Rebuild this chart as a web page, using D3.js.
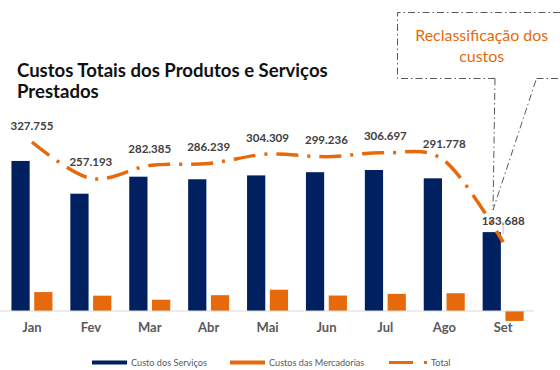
<!DOCTYPE html>
<html>
<head>
<meta charset="utf-8">
<script src="https://cdn.jsdelivr.net/npm/d3@7"></script>
<style>
  html, body { margin: 0; padding: 0; background: #ffffff; }
  svg { display: block; font-family: Lato, "Open Sans", sans-serif; }
</style>
</head>
<body>
<svg id="chart" width="560" height="370"></svg>
<script>
// Monthly cost data (R$ mil)
const months = ["Jan", "Fev", "Mar", "Abr", "Mai", "Jun", "Jul", "Ago", "Set"];
const custoServicos = [291.0, 227.5, 260.5, 255.5, 263.0, 269.2, 273.5, 257.3, 153.0];
const custoMercadorias = [36.7, 29.7, 21.9, 30.7, 41.3, 30.0, 33.2, 34.5, -19.3];
const total = [327.755, 257.193, 282.385, 286.239, 304.309, 299.236, 306.697, 291.778, 133.688];
const totalLabels = ["327.755", "257.193", "282.385", "286.239", "304.309", "299.236", "306.697", "291.778", "133.688"];
const seriesNames = ["Custo dos Serviços", "Custos das Mercadorias", "Total"];

const NAVY = "#002060";
const ORANGE = "#E66A0C";
const DASH = "22 9 3 9";

const svg = d3.select("#chart");

// shrink or grow a text's font-size so it spans the given width
function fitWidth(sel, target) {
  const node = sel.node();
  const fs = parseFloat(sel.attr("font-size"));
  const w = node.getComputedTextLength();
  const size = fs * target / w;
  sel.attr("font-size", size);
  return size;
}

// ---- title ----
const t1 = svg.append("text").attr("x", 17).attr("y", 77)
  .attr("font-size", 19).attr("font-weight", 700).attr("fill", "#111")
  .text("Custos Totais dos Produtos e Serviços");
const titleSize = fitWidth(t1, 311);
svg.append("text").attr("x", 17).attr("y", 98)
  .attr("font-size", titleSize).attr("font-weight", 700).attr("fill", "#111")
  .text("Prestados");

// ---- scales ----
const x = d3.scaleBand().domain(months).range([2.5, 532.6]).padding(0);
const inner = d3.scaleBand().domain(seriesNames.slice(0, 2)).range([-20.5, 20.5]).paddingInner(0.2);
const y = d3.scaleLinear().domain([0, 340]).range([311, 311 - 340 * 0.5156]);

// ---- bars ----
const barSeries = [
  { name: seriesNames[0], values: custoServicos, color: NAVY },
  { name: seriesNames[1], values: custoMercadorias, color: ORANGE }
];
barSeries.forEach(s => {
  svg.append("g").selectAll("rect")
    .data(months.map((m, i) => ({ m, v: s.values[i] })))
    .join("rect")
    .attr("x", d => x(d.m) + x.bandwidth() / 2 + inner(s.name))
    .attr("width", inner.bandwidth())
    .attr("y", d => y(Math.max(0, d.v)))
    .attr("height", d => Math.abs(y(d.v) - y(0)))
    .attr("fill", s.color);
});

// ---- category axis ----
const axis = svg.append("g").attr("transform", `translate(0,${y(0)})`)
  .call(d3.axisBottom(x).tickSize(0).tickPadding(12));
axis.select(".domain").attr("d", "M0,0H534").attr("stroke", "#D9D9D9").attr("stroke-width", 1);
axis.selectAll(".tick text")
  .attr("font-family", "Lato, sans-serif").attr("font-size", 13)
  .attr("font-weight", 700).attr("fill", "#595959").attr("dy", "0.71em");

// ---- total line ----
const line = d3.line()
  .x((d, i) => x(months[i]) + x.bandwidth() / 2)
  .y(d => y(d))
  .curve(d3.curveCatmullRom.alpha(0));
svg.append("path").datum(total)
  .attr("d", line).attr("fill", "none")
  .attr("stroke", ORANGE).attr("stroke-width", 3.5)
  .attr("stroke-dasharray", DASH);

// ---- value labels ----
const labelLift = { Set: 21 };
const labels = svg.append("g").selectAll("text")
  .data(months.map((m, i) => ({ m, v: total[i], t: totalLabels[i] })))
  .join("text")
  .attr("x", d => x(d.m) + x.bandwidth() / 2)
  .attr("y", d => y(d.v) - (labelLift[d.m] || 16.5))
  .attr("dy", "0.35em")
  .attr("text-anchor", "middle")
  .attr("font-size", 12).attr("font-weight", 700).attr("fill", "#404040")
  .text(d => d.t);
const probe = labels.filter(d => d.m === "Fev");
const lblSize = fitWidth(probe, 43);
labels.attr("font-size", lblSize);

// small marker right of the last bar
const setX = x("Set") + x.bandwidth() / 2;
svg.append("line").attr("x1", setX).attr("x2", setX)
  .attr("y1", 222).attr("y2", 234)
  .attr("stroke", "#BFBFBF").attr("stroke-width", 1);

// ---- callout ----
const callout = svg.append("g").attr("fill", "none").attr("stroke", "#595959")
  .attr("stroke-width", 1).attr("stroke-dasharray", "7 3 1.5 3");
callout.append("path")
  .attr("d", "M495,78.5 H397.5 V12.5 H562");
callout.append("path")
  .attr("d", "M536.5,78.5 H562");
callout.append("path")
  .attr("d", "M495,78.5 L493,210 L536.5,78.5");

const c1 = svg.append("text").attr("x", 481.7).attr("y", 41)
  .attr("text-anchor", "middle").attr("font-size", 15).attr("fill", ORANGE)
  .text("Reclassificação dos");
const cSize = fitWidth(c1, 133);
svg.append("text").attr("x", 481.7).attr("y", 62)
  .attr("text-anchor", "middle").attr("font-size", cSize).attr("fill", ORANGE)
  .text("custos");

// ---- legend ----
const legend = svg.append("g");
const legendItems = [
  { name: seriesNames[0], x0: 92, color: NAVY, type: "bar" },
  { name: seriesNames[1], x0: 230, color: ORANGE, type: "bar" },
  { name: seriesNames[2], x0: 389, color: ORANGE, type: "line" }
];
const legY = 362.5;
const legTexts = [];
legendItems.forEach(it => {
  if (it.type === "bar") {
    legend.append("rect").attr("x", it.x0).attr("y", legY - 2)
      .attr("width", 35).attr("height", 4).attr("fill", it.color);
    legTexts.push(legend.append("text").attr("x", it.x0 + 39).attr("y", legY)
      .attr("dy", "0.35em").attr("font-size", 10).attr("fill", "#595959").text(it.name));
  } else {
    legend.append("path").attr("d", `M${it.x0},${legY}H${it.x0 + 39}`)
      .attr("stroke", it.color).attr("stroke-width", 3).attr("stroke-dasharray", "24 11 3 30");
    legTexts.push(legend.append("text").attr("x", it.x0 + 42).attr("y", legY)
      .attr("dy", "0.35em").attr("font-size", 10).attr("fill", "#595959").text(it.name));
  }
});
const legSize = fitWidth(legTexts[0], 76);
legTexts.forEach(t => t.attr("font-size", legSize));
</script>
</body>
</html>
